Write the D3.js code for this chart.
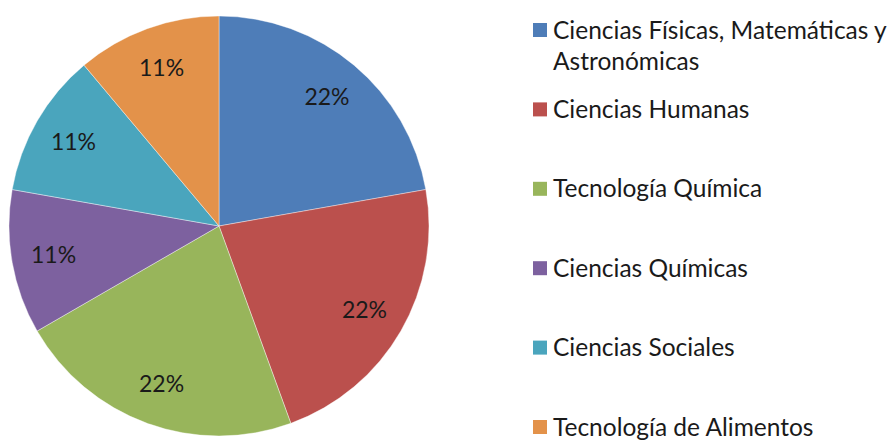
<!DOCTYPE html>
<html>
<head>
<meta charset="utf-8">
<script src="https://cdn.jsdelivr.net/npm/d3@7"></script>
<style>
  body { margin:0; background:#fff; }
  text { font-family: Lato, "Open Sans", sans-serif; fill:#1a1a1a; }
</style>
</head>
<body>
<div id="plot"></div>
<script>
// data (counts -> 2/9 = 22%, 1/9 = 11%)
var categories = ["Ciencias Físicas, Matemáticas y Astronómicas", "Ciencias Humanas", "Tecnología Química",
                  "Ciencias Químicas", "Ciencias Sociales", "Tecnología de Alimentos"];
var legendLines = [["Ciencias Físicas, Matemáticas y", "Astronómicas"], ["Ciencias Humanas"], ["Tecnología Química"],
                   ["Ciencias Químicas"], ["Ciencias Sociales"], ["Tecnología de Alimentos"]];
var values = [2, 2, 2, 1, 1, 1];
var colors = ["#4E7DB8", "#BB504D", "#98B55B", "#7D619F", "#4AA5BD", "#E3924A"];

var width = 892, height = 440;
var cx = 219, cy = 226, radius = 210;

var svg = d3.select('#plot')
    .append('svg')
    .attr('width', width)
    .attr('height', height);

var color = d3.scaleOrdinal().domain(categories).range(colors);

var pie = d3.pie().sort(null).value(function(d){ return d.value; });
var rows = categories.map(function(c, i){ return {name:c, value:values[i], lines:legendLines[i]}; });
var arcs = pie(rows);
var total = d3.sum(values);

var arc = d3.arc().innerRadius(0).outerRadius(radius);
var labelArc = d3.arc().innerRadius(168).outerRadius(168);

var g = svg.append('g')
    .attr('transform', 'translate(' + cx + ',' + cy + ')');

g.selectAll('path.slice')
    .data(arcs)
    .enter().append('path')
    .attr('class', 'slice')
    .attr('d', arc)
    .style('fill', function(d){ return color(d.data.name); })
    .style('stroke', '#fff')
    .style('stroke-opacity', 0.5)
    .style('stroke-width', 0.8);

g.selectAll('text.pct')
    .data(arcs)
    .enter().append('text')
    .attr('class', 'pct')
    .attr('transform', function(d){ return 'translate(' + labelArc.centroid(d) + ')'; })
    .attr('text-anchor', 'middle')
    .attr('dy', '0.35em')
    .style('font-size', '23px')
    .text(function(d){ return Math.round(d.data.value / total * 100) + '%'; });

// legend
var ly = d3.scaleLinear().domain([0, categories.length - 1]).range([30, 427]);

var legend = svg.selectAll('g.legend')
    .data(rows)
    .enter().append('g')
    .attr('class', 'legend')
    .attr('transform', function(d, i){ return 'translate(533,' + ly(i) + ')'; });

legend.append('rect')
    .attr('x', 0)
    .attr('y', -7)
    .attr('width', 14)
    .attr('height', 14)
    .style('fill', function(d){ return color(d.name); });

legend.append('text')
    .attr('x', 20)
    .attr('y', 0)
    .style('font-size', '24.5px')
    .selectAll('tspan')
    .data(function(d){ return d.lines; })
    .enter().append('tspan')
    .attr('x', 20)
    .attr('y', function(d, i){ return i * 31; })
    .attr('dy', '0.35em')
    .text(function(d){ return d; });
</script>
</body>
</html>
